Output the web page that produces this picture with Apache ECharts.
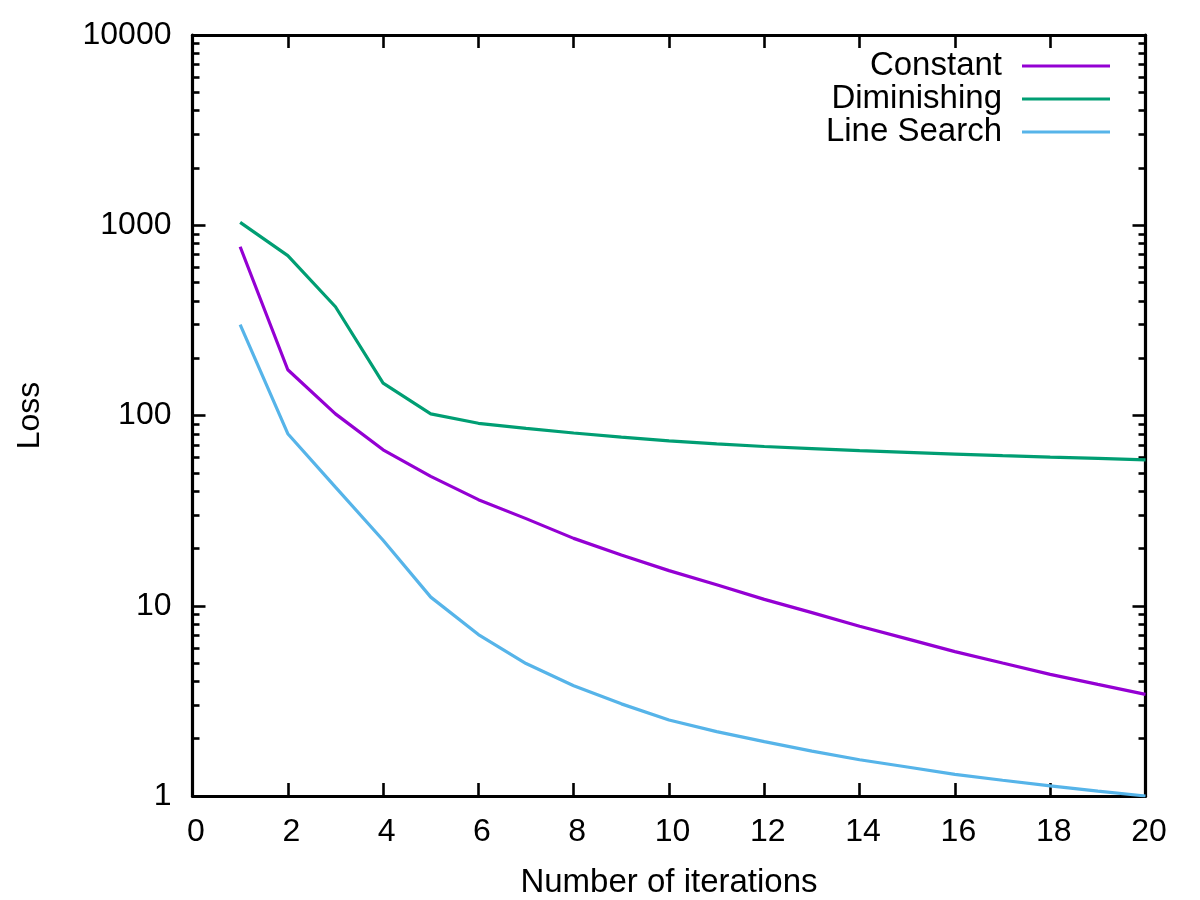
<!DOCTYPE html>
<html>
<head>
<meta charset="utf-8">
<script src="https://cdn.jsdelivr.net/npm/echarts@6/dist/echarts.min.js"></script>
<style>html,body{margin:0;padding:0;background:#fff;}#c{width:1200px;height:900px;}</style>
</head>
<body>
<div id="c"></div>
<script>
const iterations = [1,2,3,4,5,6,7,8,9,10,11,12,13,14,15,16,17,18,19,20];
const constantLoss = [771,174,102,66,47.9,36.1,28.7,22.6,18.5,15.3,12.9,10.8,9.2,7.8,6.7,5.74,5.0,4.36,3.86,3.42];
const diminishingLoss = [1035,692,373,148,102,91,85.5,80.9,77,73.6,71,68.7,67,65.3,64,62.7,61.5,60.4,59.5,58.5];
const lineSearchLoss = [300,80.2,42,22.1,11.1,7.06,4.97,3.8,3.05,2.51,2.18,1.93,1.72,1.55,1.42,1.30,1.21,1.13,1.06,1.0];
const seriesNames = ['Constant','Diminishing','Line Search'];
const seriesColors = ['#9400D3','#009E73','#56B4E9'];
const yMinorBase = [2,3,4,5,6,7,8,9];
const yDecades = [1,10,100,1000];

const FONT = '"Liberation Sans", Arial, Helvetica, sans-serif';
const FS = 32;
const FS2 = 33;
const minorLog = [];
yDecades.forEach(d => yMinorBase.forEach(m => minorLog.push(Math.log10(m * d))));

const pairs = arr => arr.map((v, i) => [iterations[i], v]);
const allData = [constantLoss, diminishingLoss, lineSearchLoss];

const tickStyle = {color: '#000', width: 2.6};
const lineStyle = {color: '#000', width: 3.2};
const gridBox = {left: 192.5, right: 54.5, top: 35, bottom: 104, containLabel: false, outerBoundsMode: 'none'};

const chart = echarts.init(document.getElementById('c'));
chart.setOption({
  animation: false,
  backgroundColor: '#fff',
  grid: [Object.assign({}, gridBox), Object.assign({}, gridBox)],
  legend: seriesNames.map((n, i) => ({
    data: [n],
    right: 90,
    top: 49.5 + i * 33,
    padding: 0,
    orient: 'vertical',
    align: 'right',
    icon: 'rect',
    itemWidth: 88,
    itemHeight: 3,
    selectedMode: false,
    textStyle: {fontFamily: FONT, fontSize: FS2, color: '#000', padding: [0, 15, 0, 0]}
  })),
  xAxis: [
    {
      gridIndex: 0, type: 'value', position: 'bottom', min: 0, max: 20, interval: 2,
      name: 'Number of iterations', nameLocation: 'middle', nameGap: 70,
      nameTextStyle: {fontFamily: FONT, fontSize: FS2, color: '#000'},
      axisLine: {show: true, onZero: false, lineStyle: lineStyle},
      axisTick: {show: true, inside: true, length: 13, lineStyle: tickStyle},
      axisLabel: {fontFamily: FONT, fontSize: FS, color: '#000', margin: 20, padding: [0, 0, 0, 7]},
      splitLine: {show: false}
    },
    {
      gridIndex: 0, type: 'value', position: 'top', min: 0, max: 20, interval: 2,
      axisLine: {show: true, onZero: false, lineStyle: lineStyle},
      axisTick: {show: true, inside: true, length: 13, lineStyle: tickStyle},
      axisLabel: {show: false},
      splitLine: {show: false}
    },
    {
      gridIndex: 1, type: 'value', min: 0, max: 1, show: false
    }
  ],
  yAxis: [
    {
      gridIndex: 0, type: 'log', logBase: 10, position: 'left', min: 1, max: 10000, interval: 1,
      name: 'Loss', nameLocation: 'middle', nameGap: 146, nameRotate: 90,
      nameTextStyle: {fontFamily: FONT, fontSize: FS, color: '#000'},
      axisLine: {show: true, onZero: false, lineStyle: lineStyle},
      axisTick: {show: true, inside: true, length: 13, lineStyle: tickStyle},
      axisLabel: {fontFamily: FONT, fontSize: FS, color: '#000', margin: 21, padding: [2, 0, 0, 0], formatter: v => String(v)},
      splitLine: {show: false}
    },
    {
      gridIndex: 0, type: 'log', logBase: 10, position: 'right', min: 1, max: 10000, interval: 1,
      axisLine: {show: true, onZero: false, lineStyle: lineStyle},
      axisTick: {show: true, inside: true, length: 13, lineStyle: tickStyle},
      axisLabel: {show: false},
      splitLine: {show: false}
    },
    {
      gridIndex: 1, type: 'value', position: 'left', min: 0, max: 4,
      axisLine: {show: false, onZero: false},
      axisTick: {show: true, inside: true, length: 7, lineStyle: tickStyle, customValues: minorLog},
      axisLabel: {show: false},
      splitLine: {show: false}
    },
    {
      gridIndex: 1, type: 'value', position: 'right', min: 0, max: 4,
      axisLine: {show: false, onZero: false},
      axisTick: {show: true, inside: true, length: 7, lineStyle: tickStyle, customValues: minorLog},
      axisLabel: {show: false},
      splitLine: {show: false}
    }
  ],
  series: seriesNames.map((n, i) => ({
    name: n,
    type: 'line',
    xAxisIndex: 0,
    yAxisIndex: 0,
    data: pairs(allData[i]),
    showSymbol: false,
    symbol: 'none',
    color: seriesColors[i],
    lineStyle: {color: seriesColors[i], width: 3.2},
    itemStyle: {color: seriesColors[i]}
  }))
});
</script>
</body>
</html>
